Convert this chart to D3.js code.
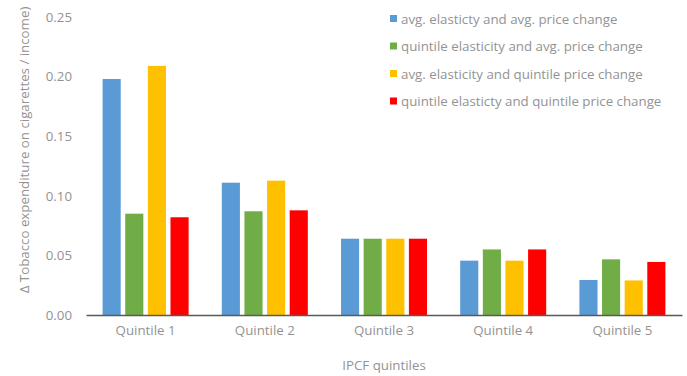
<!DOCTYPE html>
<html><head><meta charset="utf-8">
<script src="https://cdn.jsdelivr.net/npm/d3@7"></script>
<style>body{margin:0;background:#fff}svg{display:block;font-family:"Open Sans",sans-serif}</style>
</head><body><svg id="c" width="687" height="376"></svg>
<script>
const categories = ["Quintile 1","Quintile 2","Quintile 3","Quintile 4","Quintile 5"];
const seriesNames = ["avg. elasticty and avg. price change","quintile elasticity and avg. price change","avg. elasticity and quintile price change","quintile elasticty and quintile price change"];
const seriesColors = ["#5b9bd5","#70ad47","#ffc000","#ff0000"];
const avgElAvgPrice = [0.198,0.111,0.064,0.0456,0.0294];
const qElAvgPrice = [0.085,0.087,0.064,0.055,0.0467];
const avgElQPrice = [0.209,0.1127,0.064,0.0456,0.029];
const qElQPrice = [0.082,0.0878,0.064,0.055,0.0445];
const yTicks = [0,0.05,0.10,0.15,0.20,0.25];
const series = [avgElAvgPrice,qElAvgPrice,avgElQPrice,qElQPrice];
const FS = "13.3px", TC = "#939393";

const svg = d3.select("#c");
const x0 = d3.scaleBand().domain(categories).range([86,682]).paddingInner(0).paddingOuter(0);
const y = d3.scaleLinear().domain([0,0.25]).range([315,17]);
const x1 = d3.scaleBand().domain(d3.range(4)).range([0,86]).paddingInner(0.2);
const g = svg.append("g");
categories.forEach((c,i)=>{
  const gx = x0(c)+x0.bandwidth()/2-43;
  series.forEach((s,j)=>{
    g.append("rect").attr("x",gx+x1(j)).attr("width",x1.bandwidth())
     .attr("y",y(s[i])).attr("height",y(0)-y(s[i])).attr("fill",seriesColors[j]);
  });
});
const ya = svg.append("g").attr("transform","translate(72,0)")
  .call(d3.axisLeft(y).tickValues(yTicks).tickFormat(d3.format(".2f")).tickSize(0).tickPadding(0));
ya.select(".domain").remove();
ya.selectAll("text").attr("fill",TC).style("font-size",FS).style("font-family","Open Sans");
const xa = svg.append("g").attr("transform","translate(0,315)")
  .call(d3.axisBottom(x0).tickSize(0).tickPadding(11));
xa.select(".domain").attr("stroke","#595959").attr("stroke-width",1.5);
xa.selectAll("text").attr("fill",TC).style("font-size",FS).style("font-family","Open Sans");
svg.append("text").attr("x",384).attr("y",370).attr("text-anchor","middle").attr("fill",TC)
  .style("font-size",FS).text("IPCF quintiles");
svg.append("text").attr("transform","translate(29,150) rotate(-90)").attr("text-anchor","middle").attr("fill",TC)
  .style("font-size",FS).text("Δ Tobacco expenditure on cigarettes / income)");
const lg = svg.append("g");
seriesNames.forEach((n,j)=>{
  const yy = 19 + j*27.5;
  lg.append("rect").attr("x",390).attr("y",yy-4).attr("width",7).attr("height",7).attr("fill",seriesColors[j]);
  lg.append("text").attr("x",401).attr("y",yy).attr("dy","0.35em").attr("fill",TC).style("font-size",FS).text(n);
});
</script></body></html>
